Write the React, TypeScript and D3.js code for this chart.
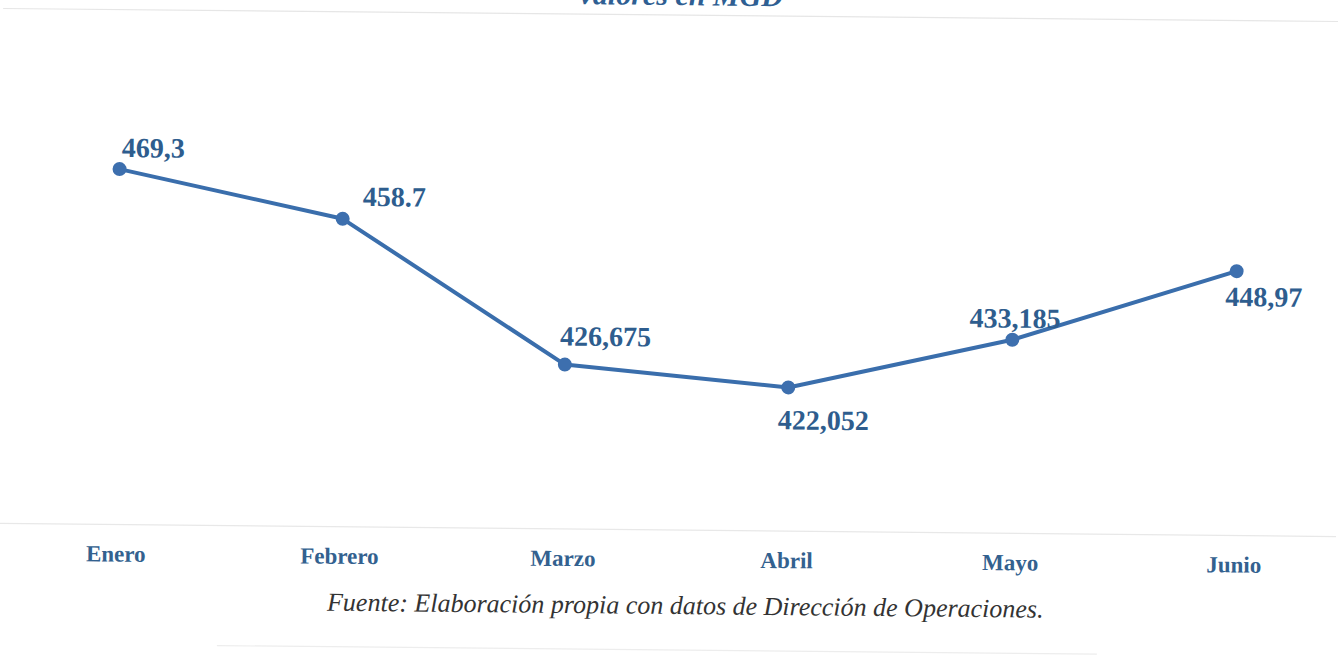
import React, { useRef, useEffect } from 'react';
import * as d3 from 'd3';

const months = ['Enero', 'Febrero', 'Marzo', 'Abril', 'Mayo', 'Junio'];
const values = [469.3, 458.7, 426.675, 422.052, 433.185, 448.97];
const valueLabels = ['469,3', '458.7', '426,675', '422,052', '433,185', '448,97'];
const yDomain = [390, 480];

const titleText = 'valores en MGD';
const sourceText = 'Fuente: Elaboración propia con datos de Dirección de Operaciones.';

// label offsets relative to each point
const labelOffsets = [
  [2, -12],
  [20, -13],
  [-5, -19],
  [-10, 42],
  [-43, -12],
  [-11, 35],
];

const serif = '"Times New Roman", "Liberation Serif", "DejaVu Serif", serif';

export default function App() {
  const ref = useRef(null);

  useEffect(() => {
    if (!ref.current) return;
    const width = 1338,
      height = 662;

    d3.select(ref.current).selectAll('*').remove();

    const svg = d3
      .select(ref.current)
      .attr('width', width)
      .attr('height', height);

    svg.append('rect').attr('width', width).attr('height', height).attr('fill', '#ffffff');

    // the scanned page is slightly tilted
    const g = svg.append('g').attr('transform', `rotate(0.56, ${width / 2}, ${height / 2})`);

    const x = d3.scalePoint().domain(months).range([118, 1236]);
    const y = d3.scaleLinear().domain(yDomain).range([530, 126.5]);

    // faint chart frame lines
    g.append('line')
      .attr('x1', 0)
      .attr('x2', width)
      .attr('y1', 15)
      .attr('y2', 15)
      .attr('stroke', '#e6e6e6')
      .attr('stroke-width', 1.2);
    g.append('line')
      .attr('x1', 0)
      .attr('x2', width)
      .attr('y1', y(yDomain[0]))
      .attr('y2', y(yDomain[0]))
      .attr('stroke', '#e8e8e8')
      .attr('stroke-width', 1.2);

    g.append('text')
      .attr('x', 678)
      .attr('y', 5)
      .attr('text-anchor', 'middle')
      .attr('font-family', serif)
      .attr('font-style', 'italic')
      .attr('font-weight', 'bold')
      .attr('font-size', 30)
      .attr('fill', '#2f5f93')
      .text(titleText);

    const data = months.map((m, i) => ({ month: m, value: values[i], label: valueLabels[i] }));

    const line = d3
      .line<{ month: string; value: number }>()
      .x((d) => x(d.month) as number)
      .y((d) => y(d.value));

    g.append('path')
      .datum(data)
      .attr('d', line)
      .attr('fill', 'none')
      .attr('stroke', '#3a6eac')
      .attr('stroke-width', 4)
      .attr('stroke-linejoin', 'round');

    g.selectAll('.dot')
      .data(data)
      .enter()
      .append('circle')
      .attr('class', 'dot')
      .attr('cx', (d) => x(d.month) as number)
      .attr('cy', (d) => y(d.value))
      .attr('r', 7)
      .attr('fill', '#3d6fae');

    g.selectAll('.vlabel')
      .data(data)
      .enter()
      .append('text')
      .attr('class', 'vlabel')
      .attr('x', (d, i) => (x(d.month) as number) + labelOffsets[i][0])
      .attr('y', (d, i) => y(d.value) + labelOffsets[i][1])
      .attr('font-family', serif)
      .attr('font-weight', 'bold')
      .attr('font-size', 28)
      .attr('fill', '#2e5d8e')
      .text((d) => d.label);

    g.selectAll('.month')
      .data(months)
      .enter()
      .append('text')
      .attr('class', 'month')
      .attr('x', (d) => x(d) as number)
      .attr('y', 567)
      .attr('text-anchor', 'middle')
      .attr('font-family', serif)
      .attr('font-weight', 'bold')
      .attr('font-size', 23)
      .attr('fill', '#33618f')
      .text((d) => d);

    g.append('text')
      .attr('x', 688)
      .attr('y', 614)
      .attr('text-anchor', 'middle')
      .attr('font-family', serif)
      .attr('font-style', 'italic')
      .attr('font-size', 26)
      .attr('fill', '#333333')
      .text(sourceText);

    g.append('line')
      .attr('x1', 220)
      .attr('x2', 1100)
      .attr('y1', 650)
      .attr('y2', 650)
      .attr('stroke', '#ededed')
      .attr('stroke-width', 1.2);
  }, []);

  return (
    <div style={{ position: 'fixed', left: 0, top: 0 }}>
      <svg ref={ref} style={{ display: 'block' }}></svg>
    </div>
  );
}
